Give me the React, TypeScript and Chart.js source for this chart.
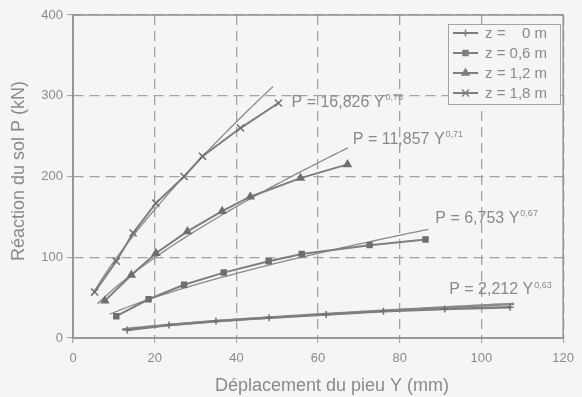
import { useEffect, useRef } from "react";
import { Chart, registerables } from "chart.js";
import { drawPoint } from "chart.js/helpers";

Chart.register(...registerables);

// Measured soil reaction P (kN) against pile displacement Y (mm), per depth z
const seriesNames = ["z =    0 m", "z = 0,6 m", "z = 1,2 m", "z = 1,8 m"];

const z00X = [13.3, 23.5, 35, 48, 62, 76, 91, 107];
const z00Y = [10, 16, 21, 25, 29, 33, 36, 38];

const z06X = [10.6, 18.5, 27.2, 36.9, 47.9, 56, 72.6, 86.3];
const z06Y = [27, 48, 66, 81, 95, 104, 115, 122];

const z12X = [7.8, 14.3, 20.3, 28, 36.5, 43.4, 55.7, 67.2];
const z12Y = [46, 78, 105, 132, 157, 175, 198, 215];

const z18X = [5.3, 10.6, 14.7, 20.3, 27.2, 31.7, 41, 50.3];
const z18Y = [57, 95, 130, 167, 200, 225, 260, 291];

// Power-law fits P = a · Y^b, with the Y range each fit covers
const fitCoef = [16.826, 11.857, 6.753, 2.212];
const fitExp = [0.75, 0.71, 0.67, 0.63];
const fitFrom = [4.5, 6, 9, 12];
const fitTo = [49, 67.3, 87, 108];
const fitCoefText = ["16,826", "11,857", "6,753", "2,212"];
const fitExpText = ["0,75", "0,71", "0,67", "0,63"];
// Anchor of each fit label, in data units (Y, P)
const fitLabelX = [53.5, 68.5, 88.7, 92.1];
const fitLabelY = [292, 246, 147.5, 59.4];

const xTicks = [0, 20, 40, 60, 80, 100, 120];
const yTicks = [0, 100, 200, 300, 400];

const BG = "#f5f5f3";
const INK = "#7e7e7e";
const TEXT = "#8a8a8a";
const FONT = "'Liberation Sans', Arial, sans-serif";

const markerStyles = ["cross", "rect", "triangle", "crossRot"];
const markerRadius = [3.5, 3.5, 4, 5];

const toPoints = (xs: number[], ys: number[]) => xs.map((x, i) => ({ x, y: ys[i] }));

const fitPoints = (k: number) => {
  const pts: { x: number; y: number }[] = [];
  const n = 60;
  for (let i = 0; i <= n; i++) {
    const x = fitFrom[k] + ((fitTo[k] - fitFrom[k]) * i) / n;
    pts.push({ x, y: fitCoef[k] * Math.pow(x, fitExp[k]) });
  }
  return pts;
};

const decorPlugin = {
  id: "decor",
  beforeDraw(chart: any) {
    const { ctx, width, height } = chart;
    ctx.save();
    ctx.fillStyle = BG;
    ctx.fillRect(0, 0, width, height);
    ctx.restore();
  },
  afterDatasetsDraw(chart: any) {
    const { ctx, chartArea: a, scales } = chart;
    const sx = scales.x;
    const sy = scales.y;
    ctx.save();

    // plot frame
    ctx.strokeStyle = "#939393";
    ctx.lineWidth = 1.5;
    ctx.setLineDash([]);
    ctx.strokeRect(a.left, a.top, a.right - a.left, a.bottom - a.top);

    // fit equations
    ctx.fillStyle = TEXT;
    ctx.textBaseline = "middle";
    ctx.textAlign = "left";
    for (let k = 0; k < fitCoef.length; k++) {
      const px = sx.getPixelForValue(fitLabelX[k]);
      const py = sy.getPixelForValue(fitLabelY[k]);
      const main = `P = ${fitCoefText[k]} Y`;
      ctx.font = `16px ${FONT}`;
      ctx.fillText(main, px, py);
      const w = ctx.measureText(main).width;
      ctx.font = `9px ${FONT}`;
      ctx.fillText(fitExpText[k], px + w + 1, py - 5);
    }

    // legend box
    const lx = 448, ly = 24, lw = 112, lh = 80;
    ctx.fillStyle = BG;
    ctx.fillRect(lx, ly, lw, lh);
    ctx.strokeStyle = "#a4a4a4";
    ctx.lineWidth = 1;
    ctx.strokeRect(lx + 0.5, ly + 0.5, lw, lh);
    for (let i = 0; i < seriesNames.length; i++) {
      const ry = 33 + i * 20;
      ctx.strokeStyle = INK;
      ctx.lineWidth = 2;
      ctx.beginPath();
      ctx.moveTo(453, ry);
      ctx.lineTo(478, ry);
      ctx.stroke();
      ctx.fillStyle = INK;
      ctx.lineWidth = 1.5;
      drawPoint(ctx, { pointStyle: markerStyles[i], radius: markerRadius[i], rotation: 0, borderWidth: 1.5 } as any, 465.5, ry);
      ctx.fillStyle = TEXT;
      ctx.font = `15px ${FONT}`;
      ctx.textAlign = "left";
      ctx.fillText(seriesNames[i], 485, ry + 1);
    }

    // axis titles
    ctx.fillStyle = TEXT;
    ctx.font = `18px ${FONT}`;
    ctx.textAlign = "center";
    ctx.fillText("Déplacement du pieu Y (mm)", 332, 386);
    ctx.translate(19, 171);
    ctx.rotate(-Math.PI / 2);
    ctx.fillText("Réaction du sol P (kN)", 0, 0);
    ctx.restore();
  },
};

export default function App() {
  const ref = useRef<HTMLCanvasElement | null>(null);

  useEffect(() => {
    document.body.style.margin = "0";
    document.body.style.background = BG;
    if (!ref.current) return;

    const measured = [
      toPoints(z00X, z00Y),
      toPoints(z06X, z06Y),
      toPoints(z12X, z12Y),
      toPoints(z18X, z18Y),
    ];

    const datasets: any[] = [];
    measured.forEach((pts, i) => {
      datasets.push({
        label: seriesNames[i],
        data: pts,
        showLine: true,
        borderColor: INK,
        backgroundColor: INK,
        borderWidth: i === 0 ? 2.5 : 2,
        pointStyle: markerStyles[i],
        pointRadius: markerRadius[i],
        pointBorderWidth: 1.5,
        pointBorderColor: "#6f6f6f",
        pointBackgroundColor: "#6f6f6f",
        tension: 0,
      });
    });
    for (let k = 0; k < fitCoef.length; k++) {
      datasets.push({
        label: `fit ${k}`,
        data: fitPoints(k),
        showLine: true,
        borderColor: "#8a8a8a",
        borderWidth: k === 3 ? 2.5 : 1.3,
        pointRadius: 0,
        tension: 0,
      });
    }

    const tickFont = { family: FONT, size: 13 };

    const chart = new Chart(ref.current, {
      type: "scatter",
      data: { datasets },
      plugins: [decorPlugin],
      options: {
        animation: false,
        responsive: false,
        devicePixelRatio: 1,
        layout: { padding: { top: 15, right: 16, left: 0, bottom: 0 } },
        plugins: {
          legend: { display: false },
          tooltip: { enabled: false },
        },
        scales: {
          x: {
            type: "linear",
            min: 0,
            max: 120,
            afterBuildTicks: (s: any) => {
              s.ticks = xTicks.map((v) => ({ value: v }));
            },
            afterFit: (s: any) => {
              s.height = 59;
            },
            ticks: { color: TEXT, font: tickFont, padding: 8, maxRotation: 0 },
            grid: { color: "#a2a2a2", lineWidth: 1.3, tickLength: 5, tickColor: "#9a9a9a", tickWidth: 1 },
            border: { display: true, color: "#939393", width: 1.5, dash: [10, 6] },
          },
          y: {
            type: "linear",
            min: 0,
            max: 400,
            afterBuildTicks: (s: any) => {
              s.ticks = yTicks.map((v) => ({ value: v }));
            },
            afterFit: (s: any) => {
              s.width = 73;
            },
            ticks: { color: TEXT, font: tickFont, padding: 4 },
            grid: { color: "#a2a2a2", lineWidth: 1.3, tickLength: 6, tickColor: "#9a9a9a", tickWidth: 1 },
            border: { display: true, color: "#939393", width: 1.5, dash: [10, 6] },
          },
        },
      } as any,
    });

    return () => chart.destroy();
  }, []);

  return (
    <div style={{ position: "fixed", left: 0, top: 0, width: 582, height: 397, background: BG }}>
      <canvas ref={ref} width={582} height={397} />
    </div>
  );
}
